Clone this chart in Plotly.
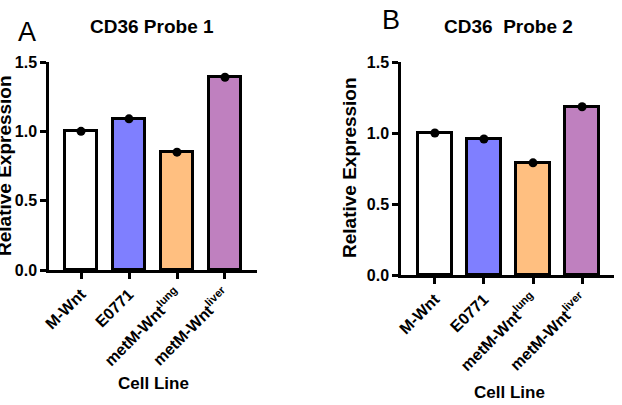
import plotly.graph_objects as go

categories = ["M-Wnt", "E0771", "metM-Wnt<sup>lung</sup>", "metM-Wnt<sup>liver</sup>"]
probe1 = [1.00, 1.09, 0.85, 1.39]
probe2 = [1.00, 0.958, 0.79, 1.185]
bar_colors = ["#ffffff", "#7f7fff", "#ffbf80", "#bf80bf"]
yticks = [0, 0.5, 1.0, 1.5]
yticklabels = ["0.0", "0.5", "1.0", "1.5"]

W, H = 622, 405
FONT = "Liberation Sans, Arial, sans-serif"

fig = go.Figure()
xs = list(range(len(categories)))

for i, (vals, width) in enumerate([(probe1, 0.66), (probe2, 0.69)]):
    xa = "x" if i == 0 else "x2"
    ya = "y" if i == 0 else "y2"
    fig.add_trace(go.Bar(
        x=xs, y=vals, width=width, xaxis=xa, yaxis=ya,
        marker=dict(color=bar_colors, line=dict(color="black", width=3)),
        showlegend=False,
    ))
    fig.add_trace(go.Scatter(
        x=xs, y=vals, mode="markers", xaxis=xa, yaxis=ya,
        marker=dict(color="black", size=9),
        showlegend=False, cliponaxis=False,
    ))

axis_common = dict(showline=True, linecolor="black", linewidth=2.5, ticks="outside",
                   tickcolor="black", tickwidth=2.5, ticklen=6, showgrid=False, zeroline=False,
                   automargin=False,
                   tickfont=dict(family=FONT, size=16, color="black", weight="bold"))

fig.update_layout(
    template="none",
    width=W, height=H, margin=dict(l=0, r=0, t=0, b=0),
    plot_bgcolor="white", paper_bgcolor="white", bargap=0,
    xaxis=dict(domain=[49 / W, 257 / W], range=[-0.667, 3.667], anchor="y",
               tickvals=xs, ticktext=categories, tickangle=-45, **axis_common),
    yaxis=dict(domain=[135 / H, 343 / H], range=[0, 1.5], anchor="x",
               tickvals=yticks, ticktext=yticklabels, **axis_common),
    xaxis2=dict(domain=[401 / W, 614 / W], range=[-0.69, 3.65], anchor="y2",
                tickvals=xs, ticktext=categories, tickangle=-45, **axis_common),
    yaxis2=dict(domain=[130 / H, 343 / H], range=[0, 1.5], anchor="x2",
                tickvals=yticks, ticktext=yticklabels, **axis_common),
)

def ann(text, x, y, size, bold=True, angle=0):
    fig.add_annotation(text=text, x=x / W, y=1 - y / H, xref="paper", yref="paper",
                       showarrow=False, textangle=angle, xanchor="center", yanchor="middle",
                       font=dict(family=FONT, size=size, color="black",
                                 weight="bold" if bold else "normal"))

ann("CD36 Probe 1", 152, 27, 19)
ann("CD36  Probe 2", 508, 27, 19)
ann("A", 27, 32, 27, bold=False)
ann("B", 391, 20, 27, bold=False)
ann("Relative Expression", 4, 166, 19, angle=-90)
ann("Relative Expression", 350, 168, 19, angle=-90)
ann("Cell Line", 153, 383, 17)
ann("Cell Line", 509, 392, 17)

fig.write_html("out.html")
